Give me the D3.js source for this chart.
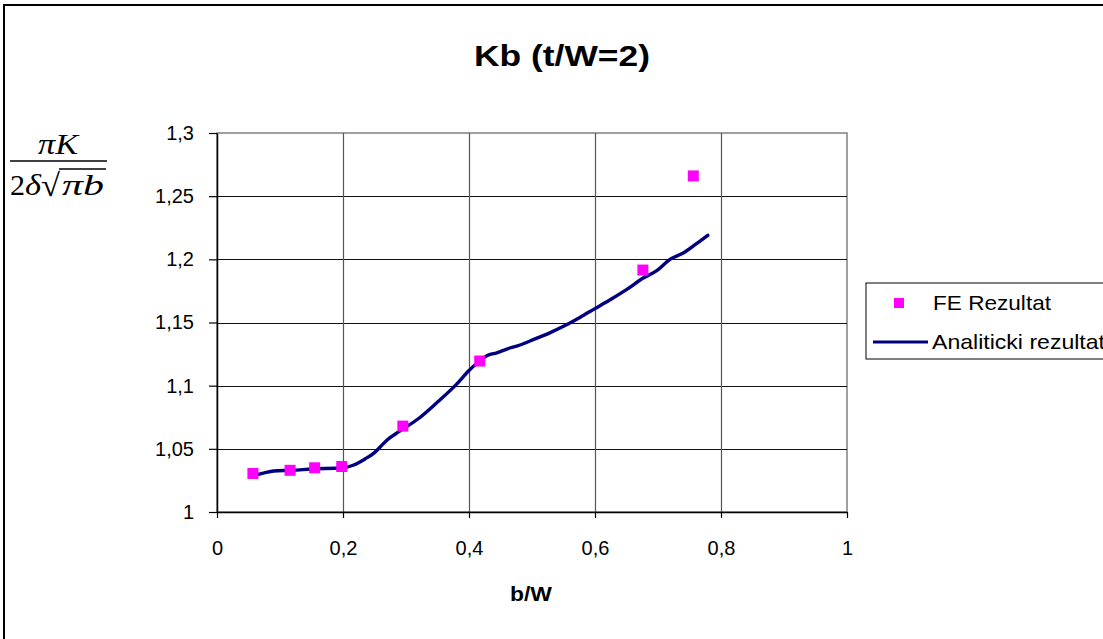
<!DOCTYPE html>
<html>
<head>
<meta charset="utf-8">
<script src="https://cdn.jsdelivr.net/npm/d3@7"></script>
<style>
  body { margin: 0; background: #fff; }
  svg text { font-family: Arial, "Liberation Sans", sans-serif; }
</style>
</head>
<body>
<svg id="chart" width="1103" height="639"></svg>
<script>
// FE results (markers)
const feX = [0.057, 0.116, 0.155, 0.198, 0.295, 0.417, 0.676, 0.756];
const feY = [1.0305, 1.033, 1.035, 1.036, 1.068, 1.1195, 1.1915, 1.266];

// Analytical result (line)
const anX = [0.06, 0.075, 0.09, 0.12, 0.15, 0.2, 0.216, 0.235, 0.25, 0.26, 0.27, 0.29, 0.32, 0.35, 0.38, 0.40, 0.417, 0.43, 0.444, 0.46, 0.48, 0.5, 0.529, 0.55, 0.576, 0.6, 0.624, 0.65, 0.676, 0.698, 0.719, 0.74, 0.76, 0.779];
const anY = [1.029, 1.031, 1.0325, 1.033, 1.034, 1.035, 1.037, 1.042, 1.047, 1.052, 1.057, 1.064, 1.074, 1.087, 1.101, 1.112, 1.1195, 1.124, 1.126, 1.129, 1.132, 1.136, 1.142, 1.147, 1.154, 1.161, 1.168, 1.176, 1.185, 1.191, 1.200, 1.205, 1.212, 1.219];

const xTicks = [0, 0.2, 0.4, 0.6, 0.8, 1];
const yTicks = [1, 1.05, 1.1, 1.15, 1.2, 1.25, 1.3];
const xGrid = [0.2, 0.4, 0.6, 0.8];

const fmt = v => String(v).replace('.', ',');

const svg = d3.select('#chart');

// outer chart frame
svg.append('rect').attr('x', 4).attr('y', 5).attr('width', 1120).attr('height', 660)
  .attr('fill', '#fff').attr('stroke', '#000').attr('stroke-width', 2);

const L = 217, R = 847, T = 133, B = 512;
const x = d3.scaleLinear().domain([0, 1]).range([L, R]);
const y = d3.scaleLinear().domain([1, 1.3]).range([B, T]);

// plot area border
svg.append('rect').attr('x', L).attr('y', T).attr('width', R - L).attr('height', B - T)
  .attr('fill', '#fff').attr('stroke', '#808080').attr('stroke-width', 1.5);

// grid lines
svg.append('g').selectAll('line').data(yTicks.slice(1, -1)).join('line')
  .attr('x1', L).attr('x2', R).attr('y1', d => Math.round(y(d)) + 0.5).attr('y2', d => Math.round(y(d)) + 0.5)
  .attr('stroke', '#111').attr('stroke-width', 1);
svg.append('g').selectAll('line').data(xGrid).join('line')
  .attr('y1', T).attr('y2', B).attr('x1', d => Math.round(x(d)) + 0.5).attr('x2', d => Math.round(x(d)) + 0.5)
  .attr('stroke', '#555').attr('stroke-width', 1.2);

// axes
const xAxis = d3.axisBottom(x).tickValues(xTicks).tickFormat(fmt).tickSizeInner(6).tickSizeOuter(0).tickPadding(23);
const gx = svg.append('g').attr('transform', `translate(0,${B})`).call(xAxis);
const yAxis = d3.axisLeft(y).tickValues(yTicks).tickFormat(fmt).tickSizeInner(8).tickSizeOuter(0).tickPadding(15);
const gy = svg.append('g').attr('transform', `translate(${L},0)`).call(yAxis);
[gx, gy].forEach(g => {
  g.attr('font-size', 20).attr('font-family', 'Arial, "Liberation Sans", sans-serif');
  g.selectAll('path.domain').attr('stroke', '#000').attr('stroke-width', 1.5);
  g.selectAll('line').attr('stroke', '#000').attr('stroke-width', 1.2);
  g.selectAll('text').attr('fill', '#000');
});

// analytical line
const line = d3.line().curve(d3.curveMonotoneX).x((d, i) => x(anX[i])).y((d, i) => y(anY[i]));
svg.append('path').datum(anY).attr('d', line)
  .attr('fill', 'none').attr('stroke', '#000080').attr('stroke-width', 3.4)
  .attr('stroke-linejoin', 'round').attr('stroke-linecap', 'round');

// FE markers
svg.append('g').selectAll('rect').data(feY).join('rect')
  .attr('x', (d, i) => x(feX[i]) - 5.5).attr('y', d => y(d) - 5.5)
  .attr('width', 11).attr('height', 11).attr('fill', '#ff00ff');

// title
svg.append('text').attr('x', 562).attr('y', 66).attr('text-anchor', 'middle')
  .attr('font-size', 29).attr('font-weight', 'bold')
  .attr('textLength', 176).attr('lengthAdjust', 'spacingAndGlyphs').text('Kb (t/W=2)');

// x axis title
svg.append('text').attr('x', 531).attr('y', 601).attr('text-anchor', 'middle')
  .attr('font-size', 20).attr('font-weight', 'bold')
  .attr('textLength', 42).attr('lengthAdjust', 'spacingAndGlyphs').text('b/W');

// y axis title: fraction
const serif = '"Liberation Serif", "Times New Roman", serif';
const fr = svg.append('g').style('font-family', serif).attr('font-size', 29);
fr.append('text').attr('x', 38).attr('y', 154).style('font-family', serif)
  .attr('font-style', 'italic').attr('textLength', 40).attr('lengthAdjust', 'spacingAndGlyphs').text('πK');
fr.append('line').attr('x1', 10).attr('x2', 107).attr('y1', 161).attr('y2', 161)
  .attr('stroke', '#000').attr('stroke-width', 1.5);
fr.append('text').attr('x', 10).attr('y', 195).style('font-family', serif)
  .attr('textLength', 15).attr('lengthAdjust', 'spacingAndGlyphs').text('2');
fr.append('text').attr('x', 25).attr('y', 195).style('font-family', serif).attr('font-style', 'italic')
  .attr('textLength', 16).attr('lengthAdjust', 'spacingAndGlyphs').text('δ');
fr.append('text').attr('x', 41).attr('y', 196).style('font-family', serif).attr('font-size', 32)
  .attr('textLength', 19).attr('lengthAdjust', 'spacingAndGlyphs').text('√');
fr.append('line').attr('x1', 59).attr('x2', 106).attr('y1', 169).attr('y2', 169)
  .attr('stroke', '#000').attr('stroke-width', 1.4);
fr.append('text').attr('x', 62).attr('y', 195).style('font-family', serif).attr('font-style', 'italic')
  .attr('textLength', 42).attr('lengthAdjust', 'spacingAndGlyphs').text('πb');

// legend
const lg = svg.append('g');
lg.append('rect').attr('x', 866).attr('y', 283).attr('width', 260).attr('height', 76)
  .attr('fill', '#fff').attr('stroke', '#000').attr('stroke-width', 1);
lg.append('rect').attr('x', 894).attr('y', 298).attr('width', 10).attr('height', 10).attr('fill', '#ff00ff');
lg.append('text').attr('x', 933).attr('y', 310).attr('font-size', 21)
  .attr('textLength', 118).attr('lengthAdjust', 'spacingAndGlyphs').text('FE Rezultat');
lg.append('line').attr('x1', 873).attr('x2', 928).attr('y1', 342).attr('y2', 342)
  .attr('stroke', '#000080').attr('stroke-width', 3);
lg.append('text').attr('x', 932).attr('y', 349).attr('font-size', 21)
  .attr('textLength', 173).attr('lengthAdjust', 'spacingAndGlyphs').text('Analiticki rezultat');
</script>
</body>
</html>
